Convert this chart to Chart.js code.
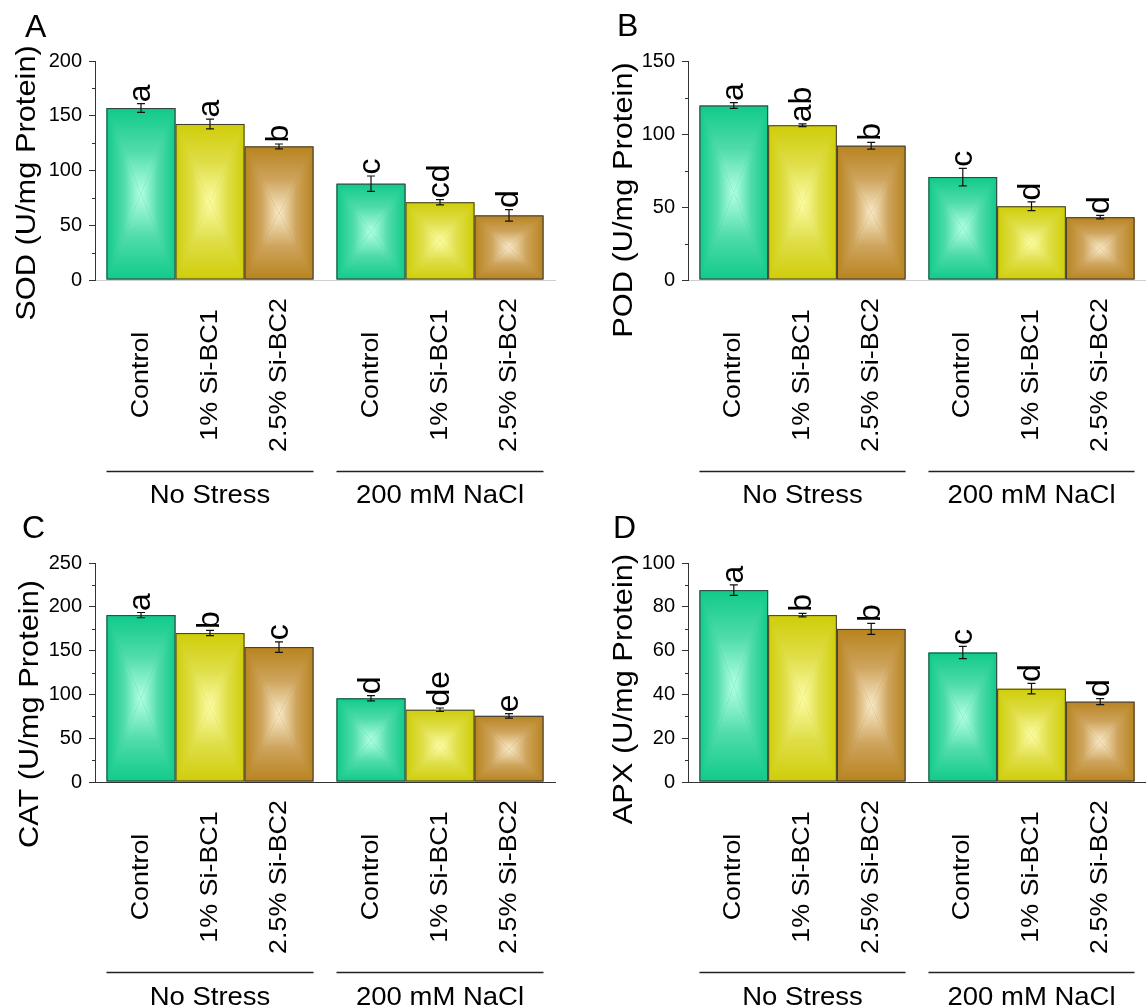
<!DOCTYPE html>
<html><head><meta charset="utf-8">
<script src="https://cdn.jsdelivr.net/npm/chart.js@4.4.1/dist/chart.umd.min.js"></script>
<style>
html,body{margin:0;padding:0;background:#fff;}
#wrap{position:relative;width:1146px;height:1008px;overflow:hidden;background:#fff;}
canvas{position:absolute;}
</style></head><body>
<div id="wrap">
<canvas id="cA" width="573" height="506" style="left:0;top:0"></canvas>
<canvas id="cB" width="573" height="506" style="left:573px;top:0"></canvas>
<canvas id="cC" width="573" height="506" style="left:0;top:502px"></canvas>
<canvas id="cD" width="573" height="506" style="left:573px;top:502px"></canvas>
</div>
<script>
// ---------- data ----------
const groups = ['No Stress', '200 mM NaCl'];
const treatments = ['Control', '1% Si-BC1', '2.5% Si-BC2'];

// order: No Stress (Control, 1%, 2.5%), 200 mM NaCl (Control, 1%, 2.5%)
const sodValues  = [157, 142.5, 122, 88, 71, 59];
const sodErrors  = [4, 4.5, 2.2, 7, 2.4, 5.3];
const sodLetters = ['a', 'a', 'b', 'c', 'cd', 'd'];
const sodTicks   = [0, 50, 100, 150, 200];

const podValues  = [119.5, 106, 92, 70.5, 50.5, 43];
const podErrors  = [2, 1, 2.3, 6, 3, 1.2];
const podLetters = ['a', 'ab', 'b', 'c', 'd', 'd'];
const podTicks   = [0, 50, 100, 150];

const catValues  = [190.5, 170, 154, 95.5, 82.5, 75.5];
const catErrors  = [3, 3, 6, 3, 2, 2.5];
const catLetters = ['a', 'b', 'c', 'd', 'de', 'e'];
const catTicks   = [0, 50, 100, 150, 200, 250];

const apxValues  = [87.6, 76.2, 69.9, 59.1, 42.6, 36.7];
const apxErrors  = [2.4, 0.8, 2.5, 2.8, 2.4, 1.4];
const apxLetters = ['a', 'b', 'b', 'c', 'd', 'd'];
const apxTicks   = [0, 20, 40, 60, 80, 100];

const panelLetters = ['A', 'B', 'C', 'D'];
const yTitles = ['SOD (U/mg Protein)', 'POD (U/mg Protein)', 'CAT (U/mg Protein)', 'APX (U/mg Protein)'];

// ---------- styling ----------
const FONT = "'Liberation Sans', Arial, Helvetica, sans-serif";
Chart.defaults.font.family = FONT;
Chart.defaults.color = '#000';

const palette = [
  { edge: '#10ca8a', mid: '#50dcaa', center: '#b4ffe4' },
  { edge: '#cfcd08', mid: '#dfde48', center: '#fcfca6' },
  { edge: '#b8831e', mid: '#cea45d', center: '#f9eaca' }
];

function paintBar(ctx, L, T, R, B, col) {
  const cx = (L + R) / 2, cy = (T + B) / 2;
  ctx.save();
  ctx.beginPath(); ctx.rect(L, T, R - L, B - T); ctx.clip();
  ctx.fillStyle = col.edge; ctx.fillRect(L, T, R - L, B - T);
  const tri = (pts, x0, y0, x1, y1) => {
    const g = ctx.createLinearGradient(x0, y0, x1, y1);
    g.addColorStop(0, col.edge); g.addColorStop(0.5, col.mid); g.addColorStop(1, col.center);
    ctx.beginPath();
    ctx.moveTo(pts[0][0], pts[0][1]); ctx.lineTo(pts[1][0], pts[1][1]); ctx.lineTo(pts[2][0], pts[2][1]);
    ctx.closePath();
    ctx.fillStyle = g; ctx.fill();
  };
  tri([[L, T], [R, T], [cx, cy]], cx, T, cx, cy);
  tri([[L, B], [R, B], [cx, cy]], cx, B, cx, cy);
  tri([[L, T], [L, B], [cx, cy]], L, cy, cx, cy);
  tri([[R, T], [R, B], [cx, cy]], R, cy, cx, cy);
  ctx.restore();
  ctx.save();
  ctx.strokeStyle = '#3a3a3a'; ctx.lineWidth = 1;
  ctx.strokeRect(L + 0.5, T + 0.5, R - L - 1, B - T - 1);
  ctx.restore();
}

function stretchedText(ctx, text, x, y, angle, sx, align, baseline, font) {
  ctx.save();
  ctx.translate(x, y);
  ctx.rotate(angle);
  ctx.scale(sx, 1);
  ctx.font = font;
  ctx.textAlign = align;
  ctx.textBaseline = baseline;
  ctx.fillStyle = '#000';
  ctx.fillText(text, 0, 0);
  ctx.restore();
}

function decorPlugin(cfg) {
  return {
    id: 'decor' + cfg.letter,
    afterDatasetsDraw(chart) {
      const ctx = chart.ctx;
      const ys = chart.scales.y;
      // gradient bars
      chart.data.datasets.forEach((ds, di) => {
        chart.getDatasetMeta(di).data.forEach((bar) => {
          const p = bar.getProps(['x', 'y', 'base', 'width'], true);
          paintBar(ctx, p.x - p.width / 2, Math.min(p.y, p.base), p.x + p.width / 2, Math.max(p.y, p.base), palette[di]);
        });
      });
      // error bars + letters
      chart.data.datasets.forEach((ds, di) => {
        chart.getDatasetMeta(di).data.forEach((bar, i) => {
          const p = bar.getProps(['x'], true);
          const v = ds.data[i], e = ds.errors[i];
          const yt = ys.getPixelForValue(v + e), yb = ys.getPixelForValue(v - e);
          ctx.save();
          ctx.strokeStyle = '#111'; ctx.lineWidth = 1.2;
          ctx.beginPath();
          ctx.moveTo(p.x, yt); ctx.lineTo(p.x, yb);
          ctx.moveTo(p.x - 4, yt); ctx.lineTo(p.x + 4, yt);
          ctx.moveTo(p.x - 4, yb); ctx.lineTo(p.x + 4, yb);
          ctx.stroke();
          ctx.restore();
          stretchedText(ctx, ds.letters[i], p.x, yt - 1.5, -Math.PI / 2, 1, 'left', 'middle', '32px ' + FONT);
        });
      });
    },
    afterDraw(chart) {
      const ctx = chart.ctx;
      const ys = chart.scales.y;
      const area = chart.chartArea;
      // minor ticks
      const t = cfg.ticks;
      ctx.save();
      ctx.strokeStyle = '#333'; ctx.lineWidth = 1;
      for (let k = 0; k < t.length - 1; k++) {
        const yy = Math.round(ys.getPixelForValue((t[k] + t[k + 1]) / 2)) + 0.5;
        ctx.beginPath(); ctx.moveTo(area.left - 3, yy); ctx.lineTo(area.left, yy); ctx.stroke();
      }
      ctx.restore();
      // category labels
      chart.data.datasets.forEach((ds, di) => {
        chart.getDatasetMeta(di).data.forEach((bar) => {
          const p = bar.getProps(['x'], true);
          stretchedText(ctx, ds.label, p.x, cfg.catY, -Math.PI / 2, 1.12, 'center', 'middle', '24px ' + FONT);
        });
      });
      // group lines + labels
      const m0 = chart.getDatasetMeta(0), m2 = chart.getDatasetMeta(chart.data.datasets.length - 1);
      chart.data.labels.forEach((g, gi) => {
        const a = m0.data[gi].getProps(['x', 'width'], true);
        const b = m2.data[gi].getProps(['x', 'width'], true);
        const L = a.x - a.width / 2, R = b.x + b.width / 2;
        ctx.save();
        ctx.strokeStyle = '#222'; ctx.lineWidth = 1.5;
        ctx.beginPath(); ctx.moveTo(L, cfg.lineY); ctx.lineTo(R, cfg.lineY); ctx.stroke();
        ctx.restore();
        stretchedText(ctx, g, (L + R) / 2, cfg.groupY, 0, 1.1, 'center', 'alphabetic', '25px ' + FONT);
      });
      // y title
      stretchedText(ctx, cfg.title, cfg.titleX, cfg.titleY, -Math.PI / 2, 1.1, 'center', 'alphabetic', '28px ' + FONT);
      // panel letter
      stretchedText(ctx, cfg.letter, cfg.letterX, cfg.letterY, 0, 1, 'left', 'alphabetic', '32px ' + FONT);
    }
  };
}

function makePanel(id, cfg) {
  const datasets = treatments.map((t, ti) => ({
    label: t,
    data: groups.map((g, gi) => cfg.values[gi * 3 + ti]),
    errors: groups.map((g, gi) => cfg.errors[gi * 3 + ti]),
    letters: groups.map((g, gi) => cfg.letters[gi * 3 + ti]),
    backgroundColor: palette[ti].edge,
    borderWidth: 0,
    categoryPercentage: 0.9,
    barPercentage: 1.0
  }));
  const tk = cfg.ticks;
  return new Chart(document.getElementById(id), {
    type: 'bar',
    data: { labels: groups, datasets },
    options: {
      responsive: false,
      maintainAspectRatio: false,
      animation: false,
      events: [],
      layout: { padding: { left: 0, top: 61, right: cfg.padRight, bottom: 0 } },
      plugins: { legend: { display: false }, tooltip: { enabled: false } },
      scales: {
        x: {
          grid: { display: false },
          border: { display: true, color: cfg.xAxisColor, width: 1 },
          ticks: { display: false },
          afterFit: (s) => { s.height = 226; }
        },
        y: {
          min: tk[0], max: tk[tk.length - 1],
          ticks: { stepSize: tk[1] - tk[0], font: { family: FONT, size: 20 }, color: '#000', padding: 7 },
          grid: { drawOnChartArea: false, drawTicks: true, tickLength: 6, color: '#333' },
          border: { display: true, color: '#333', width: 1 },
          afterFit: (s) => { s.width = cfg.axisX; }
        }
      }
    },
    plugins: [decorPlugin(cfg)]
  });
}

makePanel('cA', { values: sodValues, errors: sodErrors, letters: sodLetters, ticks: sodTicks,
  letter: panelLetters[0], title: yTitles[0], axisX: 95, padRight: 18, xAxisColor: '#cfcfcf',
  titleX: 35, titleY: 183, letterX: 25, letterY: 37, catY: 375, lineY: 471.5, groupY: 502.5 });
makePanel('cB', { values: podValues, errors: podErrors, letters: podLetters, ticks: podTicks,
  letter: panelLetters[1], title: yTitles[1], axisX: 115, padRight: 0, xAxisColor: '#cfcfcf',
  titleX: 59, titleY: 200, letterX: 44, letterY: 36, catY: 375, lineY: 471.5, groupY: 502.5 });
makePanel('cC', { values: catValues, errors: catErrors, letters: catLetters, ticks: catTicks,
  letter: panelLetters[2], title: yTitles[2], axisX: 95, padRight: 18, xAxisColor: '#333',
  titleX: 38, titleY: 212, letterX: 22, letterY: 36, catY: 375, lineY: 470.5, groupY: 502.5 });
makePanel('cD', { values: apxValues, errors: apxErrors, letters: apxLetters, ticks: apxTicks,
  letter: panelLetters[3], title: yTitles[3], axisX: 115, padRight: 0, xAxisColor: '#333',
  titleX: 59, titleY: 187, letterX: 40, letterY: 36, catY: 375, lineY: 470.5, groupY: 502.5 });
</script>
</body></html>
